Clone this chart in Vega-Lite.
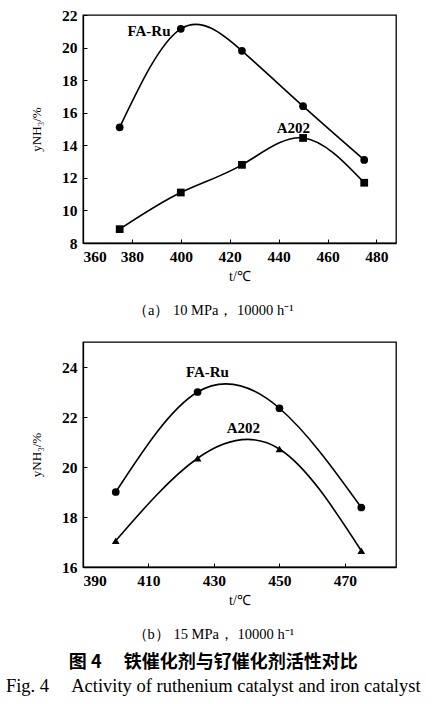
{
  "$schema": "https://vega.github.io/schema/vega-lite/v6.json",
  "background": "white",
  "padding": {"left": 5, "top": 7, "right": 4, "bottom": 5},
  "config": {
    "view": {"stroke": "black", "strokeWidth": 1.3},
    "font": "Liberation Serif",
    "axis": {
      "grid": false,
      "domainColor": "black",
      "domainWidth": 1.3,
      "tickColor": "black",
      "tickSize": -4,
      "labelColor": "black",
      "labelFont": "Liberation Serif",
      "labelFontSize": 15.5,
      "labelFontWeight": "bold",
      "labelPadding": 10,
      "labelOverlap": false,
      "titleColor": "black",
      "titleFont": "Liberation Serif",
      "titleFontSize": 14,
      "titleFontWeight": "normal"
    }
  },
  "resolve": {"scale": {"shape": "independent"}},
  "datasets": {
    "a": [
      {"t": 375, "y": 15.1, "catalyst": "FA-Ru"},
      {"t": 400, "y": 21.15, "catalyst": "FA-Ru"},
      {"t": 425, "y": 19.8, "catalyst": "FA-Ru"},
      {"t": 450, "y": 16.4, "catalyst": "FA-Ru"},
      {"t": 475, "y": 13.1, "catalyst": "FA-Ru"},
      {"t": 375, "y": 8.85, "catalyst": "A202"},
      {"t": 400, "y": 11.1, "catalyst": "A202"},
      {"t": 425, "y": 12.8, "catalyst": "A202"},
      {"t": 450, "y": 14.45, "catalyst": "A202"},
      {"t": 475, "y": 11.7, "catalyst": "A202"}
    ],
    "a_labels": [
      {"t": 387, "y": 21.0, "label": "FA-Ru"},
      {"t": 446, "y": 15.05, "label": "A202"}
    ],
    "b": [
      {"t": 400, "y": 19.0, "catalyst": "FA-Ru"},
      {"t": 425, "y": 23.0, "catalyst": "FA-Ru"},
      {"t": 450, "y": 22.35, "catalyst": "FA-Ru"},
      {"t": 475, "y": 18.38, "catalyst": "FA-Ru"},
      {"t": 400, "y": 17.05, "catalyst": "A202"},
      {"t": 425, "y": 20.35, "catalyst": "A202"},
      {"t": 450, "y": 20.72, "catalyst": "A202"},
      {"t": 475, "y": 16.65, "catalyst": "A202"}
    ],
    "b_labels": [
      {"t": 428, "y": 23.8, "label": "FA-Ru"},
      {"t": 439, "y": 21.55, "label": "A202"}
    ]
  },
  "spacing": 23,
  "vconcat": [
    {
      "width": 313,
      "height": 228,
      "title": {
        "text": "（a） 10 MPa， 10000 h⁻¹",
        "orient": "bottom",
        "font": "Liberation Serif",
        "fontSize": 14.5,
        "fontWeight": "normal",
        "color": "black",
        "offset": 20,
        "anchor": "middle",
        "frame": "bounds"
      },
      "encoding": {
        "x": {"field": "t", "type": "quantitative", "scale": {"domain": [360, 488], "nice": false}, "axis": {"values": [360, 380, 400, 420, 440, 460, 480], "title": "t/℃", "titlePadding": 5}},
        "y": {"field": "y", "type": "quantitative", "scale": {"domain": [8, 22], "nice": false, "zero": false}, "axis": {"values": [8, 10, 12, 14, 16, 18, 20, 22], "tickCount": 8, "title": "yNH₃/%", "titleFontSize": 13, "titlePadding": 18, "labelOverlap": false}}
      },
      "layer": [
        {
          "data": {"name": "a"},
          "mark": {"type": "line", "interpolate": "natural", "color": "black", "strokeWidth": 1.6},
          "encoding": {"detail": {"field": "catalyst"}}
        },
        {
          "data": {"name": "a"},
          "mark": {"type": "point", "filled": true, "color": "black", "opacity": 1, "size": 60},
          "encoding": {
            "shape": {"field": "catalyst", "type": "nominal", "scale": {"domain": ["FA-Ru", "A202"], "range": ["circle", "square"]}, "legend": null}
          }
        },
        {
          "data": {"name": "a_labels"},
          "mark": {"type": "text", "font": "Liberation Serif", "fontSize": 15, "fontWeight": "bold", "color": "black", "baseline": "middle", "align": "center"},
          "encoding": {"text": {"field": "label"}}
        }
      ]
    },
    {
      "width": 313,
      "height": 225,
      "title": {
        "text": "（b） 15 MPa， 10000 h⁻¹",
        "orient": "bottom",
        "font": "Liberation Serif",
        "fontSize": 14.5,
        "fontWeight": "normal",
        "color": "black",
        "offset": 20,
        "anchor": "middle",
        "frame": "bounds"
      },
      "encoding": {
        "x": {"field": "t", "type": "quantitative", "scale": {"domain": [390, 485.6], "nice": false}, "axis": {"values": [390, 410, 430, 450, 470], "title": "t/℃", "titlePadding": 5}},
        "y": {"field": "y", "type": "quantitative", "scale": {"domain": [16, 25], "nice": false, "zero": false}, "axis": {"values": [16, 18, 20, 22, 24], "title": "yNH₃/%", "titleFontSize": 13, "titlePadding": 18}}
      },
      "layer": [
        {
          "data": {"name": "b"},
          "mark": {"type": "line", "interpolate": "natural", "color": "black", "strokeWidth": 1.6},
          "encoding": {"detail": {"field": "catalyst"}}
        },
        {
          "data": {"name": "b"},
          "mark": {"type": "point", "filled": true, "color": "black", "opacity": 1, "size": 60},
          "encoding": {
            "shape": {"field": "catalyst", "type": "nominal", "scale": {"domain": ["FA-Ru", "A202"], "range": ["circle", "triangle-up"]}, "legend": null}
          }
        },
        {
          "data": {"name": "b_labels"},
          "mark": {"type": "text", "font": "Liberation Serif", "fontSize": 15, "fontWeight": "bold", "color": "black", "baseline": "middle", "align": "center"},
          "encoding": {"text": {"field": "label"}}
        }
      ]
    }
  ],
  "title": {
    "text": "图 4\u2003 铁催化剂与钌催化剂活性对比",
    "subtitle": "Fig. 4\u2003 Activity of ruthenium catalyst and iron catalyst",
    "orient": "bottom",
    "anchor": "middle",
    "font": "Noto Sans CJK SC",
    "fontSize": 18,
    "fontWeight": "bold",
    "color": "black",
    "subtitleFont": "Liberation Serif",
    "subtitleFontSize": 18.5,
    "subtitleColor": "black",
    "subtitlePadding": 5,
    "offset": 12
  }
}
